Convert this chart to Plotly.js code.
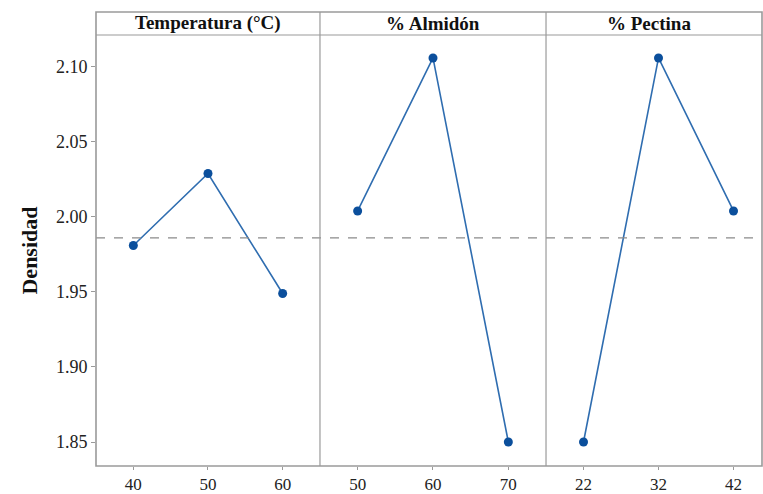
<!DOCTYPE html>
<html>
<head>
<meta charset="utf-8">
<script src="https://cdn.plot.ly/plotly-3.0.1.min.js"></script>
<style>html,body{margin:0;padding:0;background:#fff}#chart{width:763px;height:494px}</style>
</head>
<body>
<div id="chart"></div>
<script>
// Data
const panelTitles = ["Temperatura (°C)", "% Almidón", "% Pectina"];
const tempLevels = [40, 50, 60];
const tempMeans = [1.981, 2.029, 1.949];
const almidonLevels = [50, 60, 70];
const almidonMeans = [2.004, 2.106, 1.850];
const pectinaLevels = [22, 32, 42];
const pectinaMeans = [1.850, 2.106, 2.004];
const grandMean = 1.986;
const yTicks = [1.85, 1.90, 1.95, 2.00, 2.05, 2.10];
const yTitle = "Densidad";

const lineColor = "#2f6db0";
const markerColor = "#0b4f9c";
const frameColor = "#9a9a9a";
const fontFam = "Liberation Serif, Times New Roman, serif";

function tr(x, y, xa) {
  return {
    x: x, y: y, xaxis: xa, yaxis: "y", type: "scatter", mode: "lines+markers",
    line: {color: lineColor, width: 1.6},
    marker: {color: markerColor, size: 9},
    hoverinfo: "x+y", showlegend: false
  };
}

const data = [
  tr(tempLevels, tempMeans, "x"),
  tr(almidonLevels, almidonMeans, "x2"),
  tr(pectinaLevels, pectinaMeans, "x3")
];

const d1 = 0.3363, d2 = 0.6757;
const hdrTop = 1.0534;

function xax(domain, range, vals) {
  return {
    domain: domain, range: range, anchor: "y",
    tickvals: vals, ticktext: vals.map(String),
    ticks: "outside", ticklen: 3, tickcolor: frameColor, tickwidth: 1,
    showgrid: false, zeroline: false, showline: false,
    tickfont: {family: fontFam, size: 17, color: "#222"}
  };
}

const layout = {
  width: 763, height: 494,
  margin: {l: 96, r: 1, t: 35, b: 28},
  paper_bgcolor: "#fff", plot_bgcolor: "#fff",
  font: {family: fontFam, color: "#222"},
  xaxis: xax([0, d1], [35, 65], tempLevels),
  xaxis2: xax([d1, d2], [45, 75], almidonLevels),
  xaxis3: xax([d2, 1], [17, 45.8], pectinaLevels),
  yaxis: {
    range: [1.834, 2.1213],
    tickvals: yTicks, ticktext: yTicks.map(v => v.toFixed(2)),
    ticks: "outside", ticklen: 4, tickcolor: frameColor, tickwidth: 1,
    showgrid: false, zeroline: false, showline: false,
    tickfont: {family: fontFam, size: 18, color: "#222"},
    title: {text: "<b>" + yTitle + "</b>", font: {family: fontFam, size: 22, color: "#111"}, standoff: 12}
  },
  shapes: [
    {type: "line", xref: "paper", yref: "y", x0: 0, x1: 1, y0: grandMean, y1: grandMean,
     line: {color: "#8a8a8a", width: 1.2, dash: "dash"}},
    {type: "rect", xref: "paper", yref: "paper", x0: 0, x1: 1, y0: 0, y1: hdrTop,
     line: {color: frameColor, width: 1.6}},
    {type: "line", xref: "paper", yref: "paper", x0: 0, x1: 1, y0: 1, y1: 1,
     line: {color: frameColor, width: 1.2}},
    {type: "line", xref: "paper", yref: "paper", x0: d1, x1: d1, y0: 0, y1: hdrTop,
     line: {color: frameColor, width: 1.2}},
    {type: "line", xref: "paper", yref: "paper", x0: d2, x1: d2, y0: 0, y1: hdrTop,
     line: {color: frameColor, width: 1.2}}
  ],
  annotations: [
    {text: "<b>" + panelTitles[0] + "</b>", xref: "paper", yref: "paper", x: d1 / 2, y: (1 + hdrTop) / 2,
     showarrow: false, xanchor: "center", yanchor: "middle", font: {family: fontFam, size: 19, color: "#111"}},
    {text: "<b>" + panelTitles[1] + "</b>", xref: "paper", yref: "paper", x: (d1 + d2) / 2, y: (1 + hdrTop) / 2,
     showarrow: false, xanchor: "center", yanchor: "middle", font: {family: fontFam, size: 19, color: "#111"}},
    {text: "<b>" + panelTitles[2] + "</b>", xref: "paper", yref: "paper", x: (d2 + 1) / 2 - 0.008, y: (1 + hdrTop) / 2,
     showarrow: false, xanchor: "center", yanchor: "middle", font: {family: fontFam, size: 19, color: "#111"}}
  ]
};

Plotly.newPlot("chart", data, layout, {displayModeBar: false, staticPlot: true});
</script>
</body>
</html>
